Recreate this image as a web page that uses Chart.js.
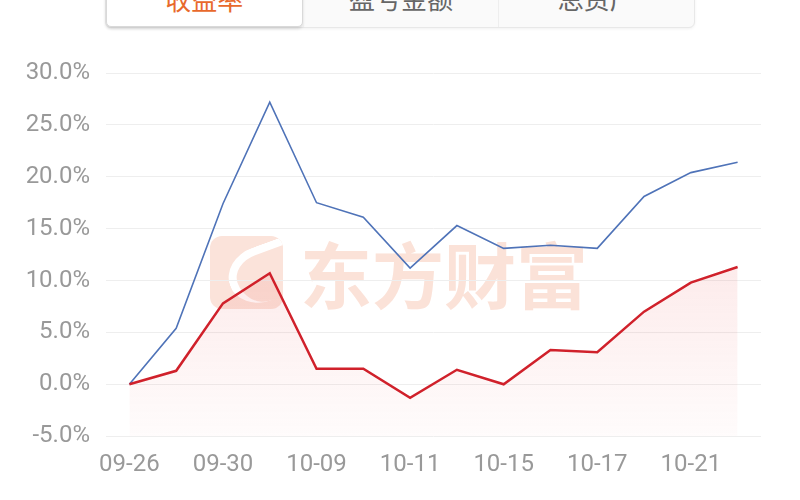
<!DOCTYPE html>
<html>
<head>
<meta charset="utf-8">
<script src="https://cdn.jsdelivr.net/npm/chart.js@4"></script>
<style>
  html, body { margin: 0; padding: 0; background: #fff; }
  #wrap { position: relative; width: 800px; height: 500px; overflow: hidden; font-family: "Noto Sans CJK SC", Roboto, sans-serif; }
  #tabs { position: absolute; left: 105px; top: -40px; width: 590px; height: 68px; display: flex;
          border: 1px solid #e8e8e8; border-radius: 6px; background: #fafafa; box-sizing: border-box;
          box-shadow: 0 1px 3px rgba(0,0,0,0.06); }
  .tab { flex: 1; text-align: center; font-size: 26px; line-height: 26px; padding-top: 24px; color: #666;
         border-left: 1px solid #eee; }
  .tab:first-child { border-left: none; background: #fff; color: #e8692c; border: 1px solid #d9d9d9;
                     border-radius: 0 0 5px 5px; box-shadow: 0 2px 3px rgba(0,0,0,0.12); }
  #mark { position: absolute; left: 210px; top: 235px; height: 74px; display: flex; align-items: center; z-index: 0; }
  #logo { width: 73px; height: 73px; border-radius: 12px; background: #fbe3da; position: relative; overflow: hidden; }
  #logo::after { content: ""; position: absolute; left: 18px; top: 10px; width: 60px; height: 48px;
                 border-radius: 50% 0 0 50%; border-left: 8px solid #fff; border-top: 8px solid #fff; transform: rotate(-20deg); }
  #mtext { margin-left: 17px; font-size: 72px; font-weight: 700; color: #fbe2d8; letter-spacing: 0; line-height: 74px; }
  canvas { position: absolute; left: 0; top: 0; z-index: 1; }
</style>
</head>
<body>
<div id="wrap">
  <div id="tabs">
    <div class="tab">收益率</div>
    <div class="tab">盈亏金额</div>
    <div class="tab">总资产</div>
  </div>
  <div id="mark"><div id="logo"></div><div id="mtext">东方财富</div></div>
  <canvas id="chart" width="800" height="500"></canvas>
</div>
<script>
// trading days
const dates = ['09-26','09-27','09-30','10-08','10-09','10-10','10-11','10-14','10-15','10-16','10-17','10-18','10-21','10-22'];
// my return (%)
const myReturn = [0, 1.3, 7.8, 10.7, 1.5, 1.5, -1.3, 1.4, 0.0, 3.3, 3.1, 7.0, 9.8, 11.3];
// benchmark return (%)
const benchmark = [0, 5.4, 17.4, 27.2, 17.5, 16.1, 11.2, 15.3, 13.1, 13.4, 13.1, 18.1, 20.4, 21.4];
const yTicks = [-5, 0, 5, 10, 15, 20, 25, 30];

var ctx = document.getElementById('chart');

function redFill(context) {
  const area = context.chart.chartArea;
  if (!area) return 'rgba(235,70,70,0.08)';
  const g = context.chart.ctx.createLinearGradient(0, area.top + 180, 0, area.bottom);
  g.addColorStop(0, 'rgba(236,80,80,0.12)');
  g.addColorStop(1, 'rgba(236,80,80,0.02)');
  return g;
}

new Chart(ctx, {
  type: 'line',
  data: {
    labels: dates,
    datasets: [{
      data: myReturn,
      borderColor: '#d0212b',
      borderWidth: 2.5,
      pointRadius: 0,
      tension: 0,
      fill: 'start',
      backgroundColor: redFill
    }, {
      data: benchmark,
      borderColor: '#4f73b8',
      borderWidth: 1.6,
      pointRadius: 0,
      tension: 0,
      fill: false
    }]
  },
  options: {
    responsive: false,
    animation: false,
    layout: { padding: { top: 73, left: 20, right: 39, bottom: 7 } },
    plugins: { legend: { display: false }, tooltip: { enabled: false } },
    scales: {
      x: {
        offset: true,
        grid: { display: false, drawTicks: false },
        border: { display: false },
        ticks: {
          autoSkip: false,
          maxRotation: 0,
          padding: 14,
          color: '#999',
          font: { family: 'Roboto', size: 24 },
          callback: function(v, i) { return i % 2 === 0 ? dates[i] : ''; }
        }
      },
      y: {
        min: yTicks[0],
        max: yTicks[yTicks.length - 1],
        afterFit: function(s) { s.width = 86; },
        afterBuildTicks: function(s) { s.ticks = yTicks.map(v => ({ value: v })); },
        grid: { color: '#eeeeee', lineWidth: 1, drawTicks: false },
        border: { display: false },
        ticks: {
          padding: 16,
          color: '#999',
          font: { family: 'Roboto', size: 24 },
          callback: function(v) { return v.toFixed(1) + '%'; }
        }
      }
    }
  }
});
</script>
</body>
</html>
